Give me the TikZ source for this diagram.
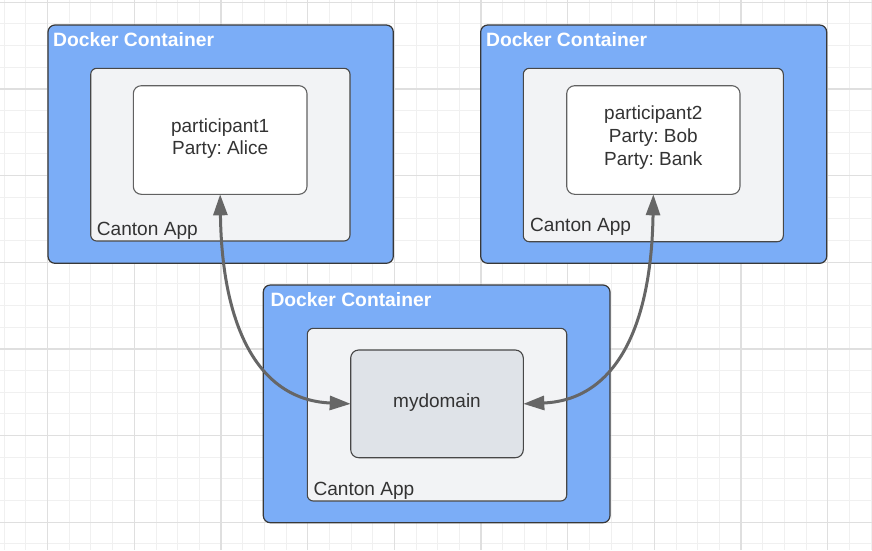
\documentclass[tikz,border=0pt]{standalone}
\usepackage{fontspec}
\setmainfont{Liberation Sans}
\usetikzlibrary{arrows.meta}
\frenchspacing
\definecolor{dockerblue}{HTML}{7BADF7}
\definecolor{appgrey}{HTML}{F2F3F5}
\definecolor{domgrey}{HTML}{DFE3E8}
\definecolor{txt}{HTML}{333333}
\definecolor{conncol}{HTML}{666666}
\definecolor{gridminor}{HTML}{F0F0F0}
\definecolor{gridmajor}{HTML}{DFDFDF}
\begin{document}
\begin{tikzpicture}[x=1pt,y=-1pt,
  box/.style={anchor=north west, inner sep=0pt, outer sep=0pt},
  dockerbox/.style={box, fill=dockerblue, draw=black!78, line width=1.2pt, rounded corners=7pt},
  appbox/.style={box, fill=appgrey, draw=black!72, line width=1.1pt, rounded corners=6pt},
  partbox/.style={box, fill=white, draw=black!62, line width=1.1pt, rounded corners=8pt},
  dombox/.style={box, fill=domgrey, draw=black!72, line width=1.1pt, rounded corners=8pt},
  dockerlabel/.style={anchor=base west, inner sep=0pt, text=white, font=\fontsize{19.3pt}{22pt}\selectfont\bfseries},
  applabel/.style={anchor=base west, inner sep=0pt, text=txt, font=\fontsize{19.1pt}{22pt}\selectfont},
  parttext/.style={anchor=center, inner sep=0pt, text=txt, align=center, font=\fontsize{19pt}{22.6pt}\selectfont},
  conn/.style={draw=conncol, line width=3pt, {Triangle[length=21pt,width=14pt]}-{Triangle[length=21pt,width=14pt]}}
]
\useasboundingbox (0,0) rectangle (872,550);
\fill[white] (0,0) rectangle (872,550);
% grid
\foreach \i in {0,...,40} {\draw[gridminor, line width=1pt] ({4.33+\i*21.667},0) -- ({4.33+\i*21.667},550);}
\foreach \i in {0,...,25} {\draw[gridminor, line width=1pt] (0,{2.3+\i*21.667}) -- (872,{2.3+\i*21.667});}
\foreach \i in {0,...,9} {\draw[gridmajor, line width=1.2pt] ({47.7+\i*86.667},0) -- ({47.7+\i*86.667},550);}
\foreach \i in {0,...,6} {\draw[gridmajor, line width=1.2pt] (0,{2.3+\i*86.667}) -- (872,{2.3+\i*86.667});}

% top-left container
\node[dockerbox, minimum width=345.3pt, minimum height=238.3pt] (d1) at (48,25) {};
\node[appbox, minimum width=259.3pt, minimum height=172.7pt] (c1) at (90.7,68.3) {};
\node[partbox, minimum width=173.7pt, minimum height=108.6pt] (p1) at (133.3,85.7) {};
\node[dockerlabel] (d1l) at (53,46) {Docker Container};
\node[applabel] (c1l) at (96.7,235.3) {Canton App};
\node[parttext] (p1t) at (220.2,138.5) {participant1\\Party: Alice};

% top-right container
\node[dockerbox, minimum width=346pt, minimum height=238.3pt] (d2) at (480.7,25) {};
\node[appbox, minimum width=260pt, minimum height=173.4pt] (c2) at (523.3,68.3) {};
\node[partbox, minimum width=173.3pt, minimum height=108.6pt] (p2) at (566.7,85.7) {};
\node[dockerlabel] (d2l) at (486,46.3) {Docker Container};
\node[applabel] (c2l) at (530,231.7) {Canton App};
\node[parttext] (p2t) at (653.3,137.5) {participant2\\Party: Bob\\Party: Bank};

% bottom container
\node[dockerbox, minimum width=346.7pt, minimum height=237.7pt] (d3) at (263.3,285) {};
\node[appbox, minimum width=259.4pt, minimum height=172.7pt] (c3) at (307.3,328.3) {};
\node[dombox, minimum width=172.6pt, minimum height=107.7pt] (dom) at (350.7,350) {};
\node[dockerlabel] (d3l) at (270.3,306.5) {Docker Container};
\node[applabel] (c3l) at (313.3,495) {Canton App};
\node[anchor=base, inner sep=0pt, text=txt, font=\fontsize{19pt}{22pt}\selectfont] (domt) at (437,407.5) {mydomain};

% connectors
\draw[conn] (p1.south) .. controls (222,330) and (260,400) .. (dom.west);
\draw[conn] (p2.south) .. controls (651.3,330) and (614,400) .. (dom.east);
\end{tikzpicture}
\end{document}
